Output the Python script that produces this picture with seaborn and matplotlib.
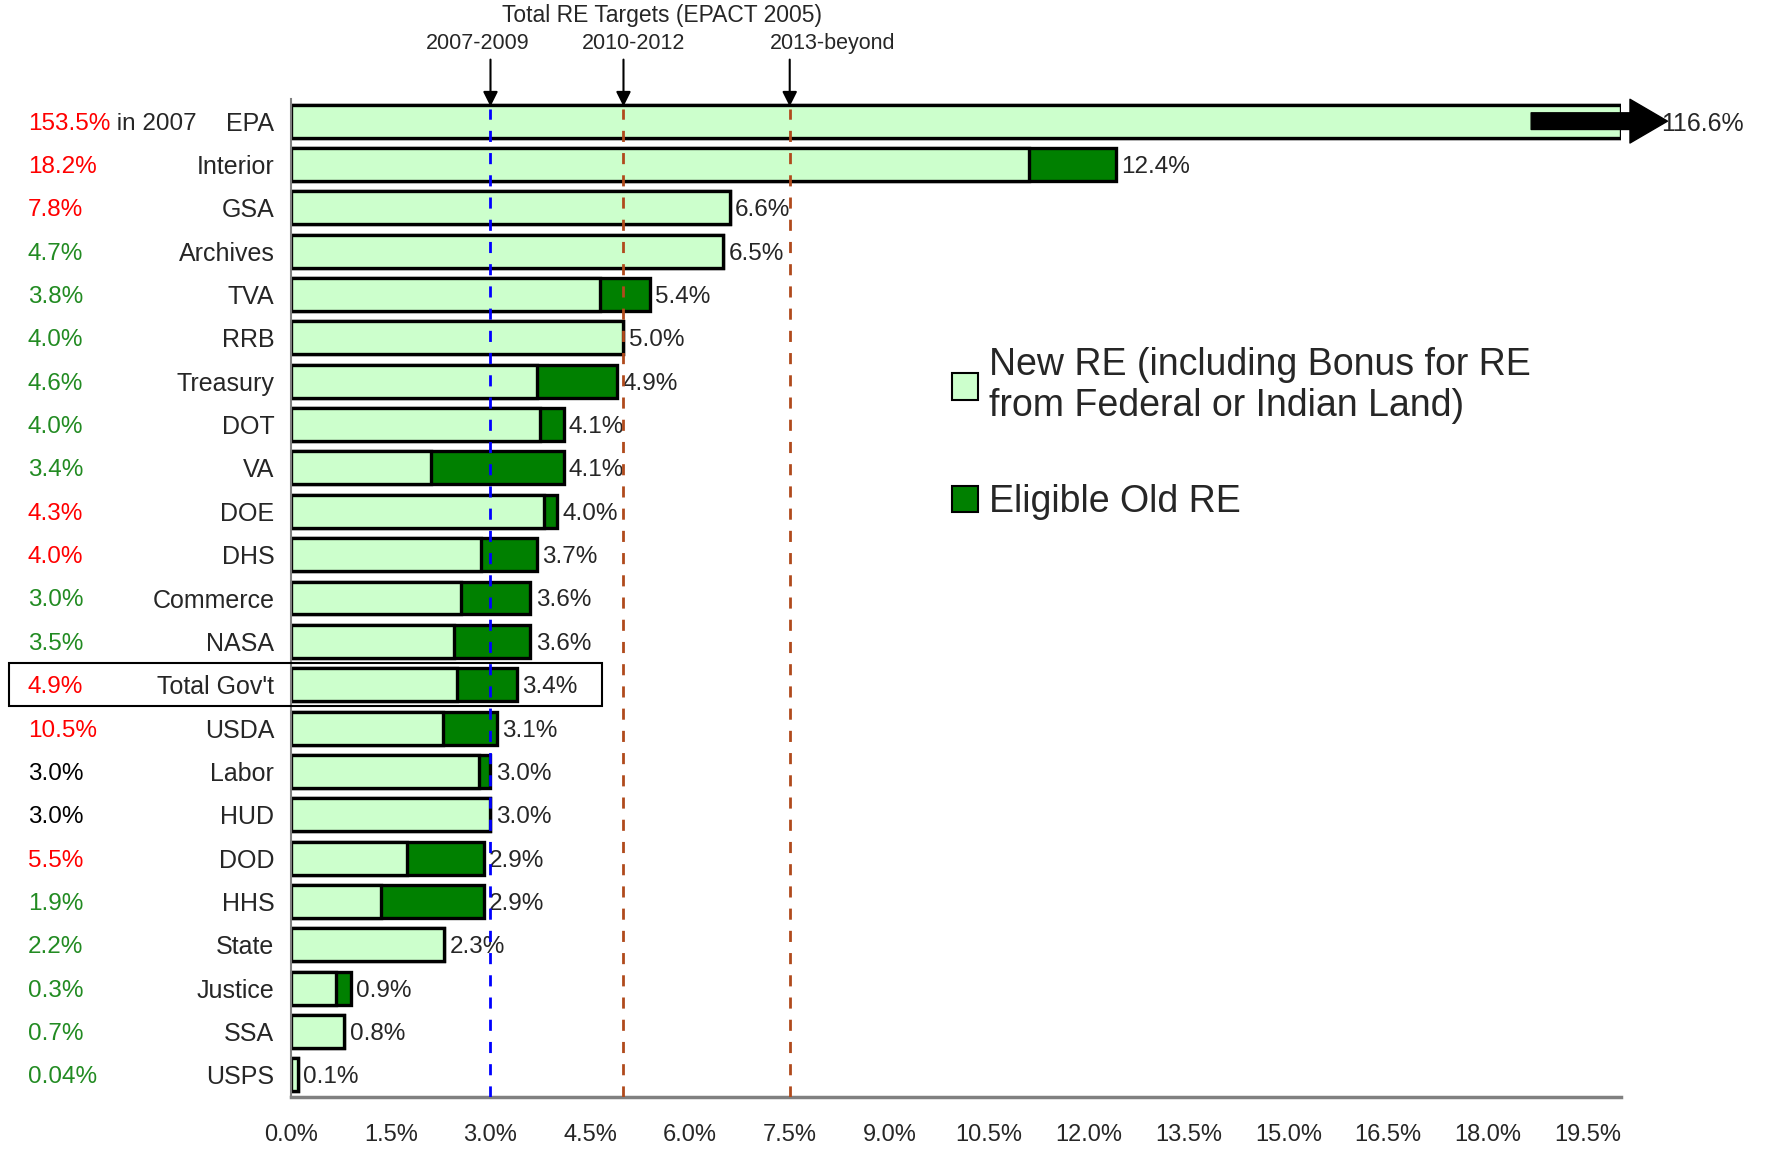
import numpy as np
import pandas as pd
import matplotlib
matplotlib.use("Agg")
import matplotlib.pyplot as plt
import matplotlib.transforms as mtransforms
from matplotlib.patches import Patch, Rectangle
from matplotlib.ticker import MultipleLocator, FuncFormatter
import seaborn as sns

# ================================
# Data
# ================================
agencies = ["EPA", "Interior", "GSA", "Archives", "TVA", "RRB", "Treasury", "DOT", "VA",
            "DOE", "DHS", "Commerce", "NASA", "Total Gov't", "USDA", "Labor", "HUD", "DOD",
            "HHS", "State", "Justice", "SSA", "USPS"]
total_re = [116.6, 12.4, 6.6, 6.5, 5.4, 5.0, 4.9, 4.1, 4.1, 4.0, 3.7, 3.6, 3.6, 3.4,
            3.1, 3.0, 3.0, 2.9, 2.9, 2.3, 0.9, 0.8, 0.1]
new_re = [116.6, 11.1, 6.6, 6.5, 4.65, 5.0, 3.7, 3.75, 2.1, 3.8, 2.85, 2.55, 2.45, 2.5,
          2.28, 2.83, 3.0, 1.75, 1.35, 2.3, 0.68, 0.8, 0.1]
left_pct = ["153.5%", "18.2%", "7.8%", "4.7%", "3.8%", "4.0%", "4.6%", "4.0%", "3.4%",
            "4.3%", "4.0%", "3.0%", "3.5%", "4.9%", "10.5%", "3.0%", "3.0%", "5.5%",
            "1.9%", "2.2%", "0.3%", "0.7%", "0.04%"]
left_pct_kind = ["r", "r", "r", "g", "g", "g", "g", "g", "g", "r", "r", "g", "g", "r",
                 "r", "k", "k", "r", "g", "g", "g", "g", "g"]

target_labels = ["2007-2009", "2010-2012", "2013-beyond"]
target_values = [3.0, 5.0, 7.5]

XMAX = 20.0
LIGHT = "#CCFFCC"
DARK = "#008000"
kind_colors = {"r": "#FF0000", "g": "#228B22", "k": "black"}
line_colors = ["#0000FF", "#B04A1C", "#B04A1C"]

df = pd.DataFrame({"agency": agencies, "new": new_re, "total": total_re})
df["shown_total"] = df["total"].clip(upper=XMAX)
df["shown_new"] = df["new"].clip(upper=XMAX)

# ================================
# Figure
# ================================
sns.set_style("white")
plt.rcParams["font.family"] = ["Liberation Sans", "DejaVu Sans"]

fig = plt.figure(figsize=(17.69, 11.5), dpi=100)
ax = fig.add_axes([0.1645, 0.0465, 0.7518, 0.867])

# total (dark) underneath, new (light) on top -> stacked look
sns.barplot(data=df, x="shown_total", y="agency", order=agencies, color=DARK,
            saturation=1, edgecolor="black", linewidth=2.4, width=0.76,
            errorbar=None, ax=ax)
sns.barplot(data=df, x="shown_new", y="agency", order=agencies, color=LIGHT,
            saturation=1, edgecolor="black", linewidth=2.4, width=0.76,
            errorbar=None, ax=ax)

ax.set_xlim(0, XMAX)
ax.set_ylim(len(agencies) - 0.55, -0.45)
ax.set_xlabel("")
ax.set_ylabel("")

# axes styling
for s in ["top", "right"]:
    ax.spines[s].set_visible(False)
ax.spines["bottom"].set_color("#808080")
ax.spines["bottom"].set_linewidth(2.5)
ax.spines["left"].set_color("#808080")
ax.spines["left"].set_linewidth(1.5)

ax.xaxis.set_major_locator(MultipleLocator(1.5))
ax.xaxis.set_minor_locator(MultipleLocator(0.5))
ax.xaxis.set_major_formatter(FuncFormatter(lambda v, p: f"{v:.1f}%"))
ax.tick_params(axis="x", which="major", direction="inout", length=14, width=1.2,
               color="#404040", labelsize=17, pad=13)
ax.tick_params(axis="x", which="minor", direction="in", length=7, width=1.0,
               color="#404040")
ax.set_yticks(np.arange(-0.5, len(agencies), 1.0), minor=True)
ax.tick_params(axis="y", which="major", length=0, pad=12, labelsize=18)
ax.tick_params(axis="y", which="minor", direction="in", length=5, width=1.0,
               color="#404040")

# value labels
for i, v in enumerate(total_re):
    if v <= XMAX:
        ax.text(v + 0.08, i, f"{v:.1f}%", va="center_baseline", ha="left", fontsize=17.5)

# EPA off-scale arrow
ax.annotate("", xy=(XMAX + 0.7, 0), xytext=(XMAX - 1.35, 0),
            arrowprops=dict(arrowstyle="simple,head_length=0.9,head_width=1.05,tail_width=0.4",
                            color="black", shrinkA=0, shrinkB=0, mutation_scale=30),
            annotation_clip=False, zorder=6)
ax.text(XMAX + 0.6, 0, f"{total_re[0]:.1f}%", va="center_baseline", ha="left", fontsize=18)

# left column of percentages
trans = mtransforms.blended_transform_factory(ax.transAxes, ax.transData)
for i, (p, k) in enumerate(zip(left_pct, left_pct_kind)):
    t = ax.text(-0.198, i, p, color=kind_colors[k], transform=trans,
                ha="left", va="center_baseline", fontsize=17.5)
    if i == 0:
        ax.annotate(" in 2007", xy=(1, 0.5), xycoords=t, ha="left", va="center",
                    fontsize=17.5)

# box around Total Gov't
i_tot = agencies.index("Total Gov't")
ax.add_patch(Rectangle((-4.24, i_tot - 0.5), 4.24 + 4.68, 1.0, fill=False,
                       edgecolor="black", linewidth=1.5, clip_on=False, zorder=6))

# target lines + arrows
top = mtransforms.blended_transform_factory(ax.transData, ax.transAxes)
label_offsets = [-0.2, 0.15, 0.65]
for x, lab, c, off in zip(target_values, target_labels, line_colors, label_offsets):
    ax.axvline(x, ymin=0, ymax=0.99, color=c, linestyle=(0, (4, 4)), linewidth=2, zorder=5)
    ax.annotate("", xy=(x, 0.993), xytext=(x, 1.04), xycoords=top, textcoords=top,
                arrowprops=dict(arrowstyle="-|>", color="black", lw=1.5,
                                mutation_scale=22, shrinkA=0, shrinkB=0),
                annotation_clip=False)
    ax.text(x + off, 1.056, lab, transform=top, ha="center", va="center", fontsize=15.5)
ax.text(5.58, 1.084, "Total RE Targets (EPACT 2005)", transform=top,
        ha="center", va="center", fontsize=16.5)

# legend
handles = [Patch(facecolor=LIGHT, edgecolor="black", linewidth=1.5),
           Patch(facecolor=DARK, edgecolor="black", linewidth=1.5)]
ax.legend(handles, ["New RE (including Bonus for RE\nfrom Federal or Indian Land)",
                    "Eligible Old RE"],
          loc="upper left", bbox_to_anchor=(0.497, 0.752), frameon=False, fontsize=27,
          handlelength=0.7, handleheight=0.7, handletextpad=0.3, labelspacing=1.6,
          borderpad=0, borderaxespad=0)

fig.savefig("out.png", dpi=100)
